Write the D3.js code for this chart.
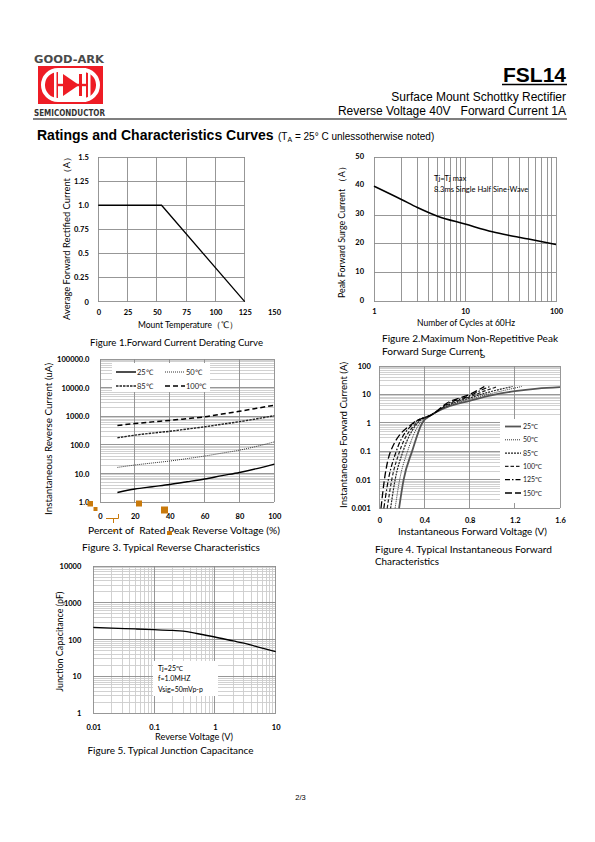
<!DOCTYPE html>
<html><head><meta charset="utf-8">
<script src="https://cdn.jsdelivr.net/npm/d3@7"></script>
<style>body{margin:0;background:#fff}svg{display:block}</style>
</head><body>
<svg id="page" width="595" height="842"></svg>
<script>
// ---------------- DATA ----------------
// Figure 1: Forward current derating
const fig1Temp = [0, 54, 125];
const fig1Current = [1.0, 1.0, 0.0];
const fig1XTicks = [0, 25, 50, 75, 100, 125, 150];
const fig1XGrid = [0, 25, 50, 75, 100, 125];
const fig1YTicks = [0, 0.25, 0.5, 0.75, 1.0, 1.25, 1.5];
const fig1YLabels = ["0", "0.25", "0.5", "0.75", "1.0", "1.25", "1.5"];

// Figure 2: Surge current
const fig2Cycles = [1, 2, 3, 5, 10, 20, 30, 50, 100];
const fig2Surge = [40, 35.4, 32.6, 29.6, 26.9, 24.2, 23.0, 21.7, 19.8];
const fig2XTicks = [1, 10, 100];
const fig2XGrid = [1, 2, 3, 4, 5, 6, 7, 8, 9, 10, 20, 30, 40, 50, 60, 70, 80, 90, 100];
const fig2YTicks = [0, 10, 20, 30, 40, 50];
const fig2YGrid = [10, 20, 30];

// Figure 3: Reverse characteristics
const fig3Percent = [10, 20, 30, 40, 50, 60, 70, 80, 90, 100];
const fig3I25 = [2.2, 2.9, 3.5, 4.2, 5.2, 6.5, 8.5, 11, 15, 21.5];
const fig3I50 = [16.5, 20, 23.5, 27.5, 33.5, 41, 52, 66, 90, 128];
const fig3I85 = [178, 220, 260, 300, 360, 430, 530, 650, 820, 1050];
const fig3I100 = [480, 560, 640, 720, 830, 960, 1200, 1500, 1900, 2450];
const fig3XTicks = [0, 20, 40, 60, 80, 100];
const fig3YTicks = [1, 10, 100, 1000, 10000, 100000];
const fig3YLabels = ["1.0", "10.0", "100.0", "1000.0", "10000.0", "100000.0"];
const fig3Legend = ["25℃", "50℃", "85℃", "100℃"];

// Figure 4: Forward characteristics (V, A)
const fig4Legend = ["25℃", "50℃", "85℃", "100℃", "125℃", "150℃"];
const fig4V25 = [0.175, 0.215, 0.29, 0.38, 0.47, 0.6, 0.8, 1.0, 1.2, 1.4, 1.6];
const fig4I25 = [0.001, 0.01, 0.1, 1, 2, 3.6, 6, 9.5, 13, 16, 18];
const fig4V50 = [0.14, 0.18, 0.25, 0.36, 0.47, 0.6, 0.8, 1.0, 1.26];
const fig4I50 = [0.001, 0.01, 0.1, 1, 2, 3.8, 6.8, 11, 19];
const fig4V85 = [0.10, 0.14, 0.21, 0.34, 0.47, 0.6, 0.8, 1.0, 1.18];
const fig4I85 = [0.001, 0.01, 0.1, 1, 2, 4.0, 7.5, 13, 19];
const fig4V100 = [0.07, 0.11, 0.18, 0.33, 0.47, 0.6, 0.8, 0.95, 1.05];
const fig4I100 = [0.001, 0.01, 0.1, 1, 2, 4.3, 8.2, 14, 19];
const fig4V125 = [0.04, 0.08, 0.15, 0.31, 0.47, 0.6, 0.8, 0.9, 0.98];
const fig4I125 = [0.001, 0.01, 0.1, 1, 2, 4.6, 9, 14, 19];
const fig4V150 = [0.015, 0.045, 0.10, 0.30, 0.47, 0.6, 0.8, 0.93];
const fig4I150 = [0.001, 0.01, 0.1, 1, 2, 5.0, 10, 19];
const fig4XTicks = [0, 0.4, 0.8, 1.2, 1.6];
const fig4XLabels = ["0", "0.4", "0.8", "1.2", "1.6"];
const fig4YTicks = [0.001, 0.01, 0.1, 1, 10, 100];
const fig4YLabels = ["0.001", "0.01", "0.1", "1", "10", "100"];

// Figure 5: Junction capacitance
const fig5Voltage = [0.01, 0.02, 0.05, 0.1, 0.2, 0.3, 0.5, 1, 2, 3, 5, 10];
const fig5Cap = [215, 205, 195, 187, 178, 171, 147, 118, 92, 80, 64, 47];
const fig5XTicks = [0.01, 0.1, 1, 10];
const fig5XLabels = ["0.01", "0.1", "1", "10"];
const fig5YTicks = [1, 10, 100, 1000, 10000];
const fig5YLabels = ["1", "10", "100", "1000", "10000"];

// ---------------- HELPERS ----------------
const svg = d3.select("#page");
const ARIAL = "'Liberation Sans', Arial, sans-serif";
const CAL = "Lato, 'Open Sans', sans-serif";
const GRID = "#8c8c8c", MINOR = "#cccccc";

function label(parent, s, x, y, o = {}) {
  const t = parent.append("text").attr("x", x).attr("y", y).text(s)
    .attr("font-family", o.family || CAL).attr("font-size", o.size || 9)
    .attr("fill", o.fill || "#000");
  if (o.weight) t.attr("font-weight", o.weight);
  if (o.anchor) t.attr("text-anchor", o.anchor);
  if (o.len) t.attr("textLength", o.len).attr("lengthAdjust", "spacingAndGlyphs");
  if (o.rotate) t.attr("transform", `rotate(-90 ${x} ${y})`);
  return t;
}
function styleAxis(ag, size) {
  ag.select(".domain").remove();
  ag.selectAll("text").attr("font-family", CAL).attr("font-size", size || 7.5)
    .attr("font-weight", "bold").attr("fill", "#000");
}
function xAxis(g, scale, vals, fmt, y, pad) {
  const a = d3.axisBottom(scale).tickValues(vals).tickFormat((d, i) => fmt[i]).tickSize(0).tickPadding(pad);
  const ag = g.append("g").attr("transform", `translate(0,${y})`).call(a);
  styleAxis(ag);
  return ag;
}
function yAxis(g, scale, vals, fmt, x, pad) {
  const a = d3.axisLeft(scale).tickValues(vals).tickFormat((d, i) => fmt[i]).tickSize(0).tickPadding(pad);
  const ag = g.append("g").attr("transform", `translate(${x},0)`).call(a);
  styleAxis(ag);
  return ag;
}
function vLines(g, scale, vals, y0, y1, color) {
  g.append("g").selectAll("line").data(vals).join("line")
    .attr("x1", d => scale(d)).attr("x2", d => scale(d)).attr("y1", y0).attr("y2", y1)
    .attr("stroke", color).attr("stroke-width", 0.9).attr("shape-rendering", "crispEdges");
}
function hLines(g, scale, vals, x0, x1, color) {
  g.append("g").selectAll("line").data(vals).join("line")
    .attr("y1", d => scale(d)).attr("y2", d => scale(d)).attr("x1", x0).attr("x2", x1)
    .attr("stroke", color).attr("stroke-width", 0.9).attr("shape-rendering", "crispEdges");
}
function logMinor(lo, hi) {
  const v = [];
  for (let p = Math.round(Math.log10(lo)); p < Math.round(Math.log10(hi)); p++)
    for (let k = 2; k < 10; k++) v.push(k * Math.pow(10, p));
  return v;
}
function zip(a, b) { return a.map((d, i) => [d, b[i]]); }

// ---------------- HEADER ----------------
const hdr = svg.append("g");
label(hdr, "GOOD-ARK", 34, 62.5, { family: "'DejaVu Sans', sans-serif", size: 11, weight: "bold", fill: "#4a4a4a", len: 70 });
hdr.append("rect").attr("x", 38).attr("y", 66).attr("width", 65).attr("height", 38).attr("fill", "#ee1c25");
hdr.append("rect").attr("x", 43).attr("y", 70).attr("width", 55).attr("height", 30).attr("rx", 15)
  .attr("fill", "none").attr("stroke", "#fff").attr("stroke-width", 4);
hdr.append("rect").attr("x", 58).attr("y", 68).attr("width", 28).attr("height", 34).attr("fill", "#fff");
hdr.append("path").attr("d", "M63,74 L63,96 L79,85 Z").attr("fill", "#ee1c25");
hdr.append("rect").attr("x", 79).attr("y", 74).attr("width", 3).attr("height", 22).attr("fill", "#ee1c25");
hdr.append("rect").attr("x", 45).attr("y", 83.8).attr("width", 51).attr("height", 2.4).attr("fill", "#ee1c25");
hdr.append("rect").attr("x", 54).attr("y", 72).attr("width", 2.5).attr("height", 26).attr("fill", "#fff");
hdr.append("rect").attr("x", 88).attr("y", 72).attr("width", 2.5).attr("height", 26).attr("fill", "#fff");
label(hdr, "SEMICONDUCTOR", 34, 116, { family: "'DejaVu Sans Condensed', 'DejaVu Sans', sans-serif", size: 9, weight: "bold", fill: "#333", len: 71 });
hdr.append("line").attr("x1", 33).attr("x2", 567).attr("y1", 119).attr("y2", 119).attr("stroke", "#000").attr("stroke-width", 1.2);
label(hdr, "FSL14", 566, 82, { family: ARIAL, size: 21, weight: "bold", anchor: "end" });
hdr.append("line").attr("x1", 502).attr("x2", 567).attr("y1", 84.5).attr("y2", 84.5).attr("stroke", "#000").attr("stroke-width", 1.3);
label(hdr, "Surface Mount Schottky Rectifier", 566, 100.5, { family: ARIAL, size: 12, anchor: "end" });
label(hdr, "Reverse Voltage 40V   Forward Current 1A", 566, 115, { family: ARIAL, size: 12, anchor: "end" }).attr("xml:space", "preserve");

const ttl = svg.append("g");
label(ttl, "Ratings and Characteristics Curves", 37, 139.5, { family: ARIAL, size: 14, weight: "bold" });
const sub = ttl.append("text").attr("x", 278).attr("y", 139.5).attr("font-family", ARIAL).attr("font-size", 10);
sub.append("tspan").text("(T");
sub.append("tspan").attr("dy", 2).attr("font-size", 7).text("A");
sub.append("tspan").attr("dy", -2).text(" = 25° C unlessotherwise noted)");

// ---------------- FIGURE 1 ----------------
{
  const g = svg.append("g");
  const x = d3.scaleLinear().domain([0, 150]).range([98.3, 274]);
  const y = d3.scaleLinear().domain([0, 1.5]).range([301.7, 157]);
  vLines(g, x, fig1XGrid, y(0), y(1.5), GRID);
  hLines(g, y, fig1YTicks, x(0), x(125), GRID);
  g.append("path").datum(zip(fig1Temp, fig1Current))
    .attr("d", d3.line().x(d => x(d[0])).y(d => y(d[1])))
    .attr("fill", "none").attr("stroke", "#000").attr("stroke-width", 1.3);
  xAxis(g, x, fig1XTicks, fig1XTicks.map(String), y(0), 7.5);
  yAxis(g, y, fig1YTicks, fig1YLabels, x(0), 9.5);
  label(g, "Average Forward Rectified Current（A）", 69.5, 236, { size: 8.5, anchor: "middle", rotate: true, len: 168 });
  label(g, "Mount Temperature（℃）", 188, 328, { size: 8.5, anchor: "middle", len: 100 });
  label(g, "Figure 1.Forward Current Derating Curve", 90, 345.5, { size: 9.5, len: 173 });
}

// ---------------- FIGURE 2 ----------------
{
  const g = svg.append("g");
  const x = d3.scaleLog().domain([1, 100]).range([374, 556]);
  const y = d3.scaleLinear().domain([0, 50]).range([301.7, 157.3]);
  vLines(g, x, fig2XGrid, y(0), y(50), GRID);
  hLines(g, y, fig2YGrid, x(1), x(100), GRID);
  hLines(g, y, [0, 50], x(1), x(100), GRID);
  g.append("path").datum(zip(fig2Cycles, fig2Surge))
    .attr("d", d3.line().x(d => x(d[0])).y(d => y(d[1])).curve(d3.curveMonotoneX))
    .attr("fill", "none").attr("stroke", "#000").attr("stroke-width", 1.5);
  xAxis(g, x, fig2XTicks, fig2XTicks.map(String), y(0), 7);
  const ya = yAxis(g, y, fig2YTicks, fig2YTicks.map(String), x(1), 10);
  ya.selectAll("text").attr("dy", "0.1em");
  label(g, "Tj=Tj max", 434, 181, { size: 7.5 });
  label(g, "8.3ms Single Half Sine-Wave", 434, 192, { size: 7.5 });
  label(g, "Peak Forward Surge Current （A）", 345, 230, { size: 8.5, anchor: "middle", rotate: true, len: 136 });
  label(g, "Number of Cycles at 60Hz", 466, 326, { size: 8.5, anchor: "middle", len: 98 });
  label(g, "Figure 2.Maximum Non-Repetitive Peak", 382, 342, { size: 9.5, len: 176 });
  label(g, "Forward Surge Current", 382, 355, { size: 9.5, len: 101 });
}

// ---------------- FIGURE 3 ----------------
{
  const g = svg.append("g");
  const x = d3.scaleLinear().domain([0, 100]).range([100, 274.3]);
  const y = d3.scaleLog().domain([1, 100000]).range([502.3, 359]);
  hLines(g, y, logMinor(1, 100000), x(0), x(100), MINOR);
  hLines(g, y, fig3YTicks, x(0), x(100), GRID);
  vLines(g, x, fig3XTicks, y(1), y(100000), GRID);
  // legend background
  g.append("rect").attr("x", 112).attr("y", 363).attr("width", 98).attr("height", 29).attr("fill", "#fff");
  const series = [
    { v: fig3I25, dash: null, w: 1.4, c: "#000" },
    { v: fig3I50, dash: "1,1", w: 1.0, c: "#333" },
    { v: fig3I85, dash: "2.5,1", w: 1.4, c: "#222" },
    { v: fig3I100, dash: "5,3", w: 1.5, c: "#000" }
  ];
  const line = d3.line().x(d => x(d[0])).y(d => y(d[1])).curve(d3.curveMonotoneX);
  series.forEach(s => {
    g.append("path").datum(zip(fig3Percent, s.v)).attr("d", line)
      .attr("fill", "none").attr("stroke", s.c).attr("stroke-width", s.w).attr("stroke-dasharray", s.dash);
  });
  const lpos = [[116, 372], [165, 372], [116, 386], [165, 386]];
  series.forEach((s, i) => {
    const [lx, ly] = lpos[i];
    g.append("line").attr("x1", lx).attr("x2", lx + 20).attr("y1", ly).attr("y2", ly)
      .attr("stroke", s.c).attr("stroke-width", s.w).attr("stroke-dasharray", s.dash);
    label(g, fig3Legend[i], lx + 21, ly + 2.5, { size: 7.5, fill: "#222" });
  });
  xAxis(g, x, fig3XTicks, fig3XTicks.map(String), y(1), 11.5);
  yAxis(g, y, fig3YTicks, fig3YLabels, x(0), 10.7);
  label(g, "Instantaneous Reverse Current (uA)", 51.5, 439, { size: 10, anchor: "middle", rotate: true, len: 152 });
  label(g, "Percent of  Rated Peak Reverse Voltage (%)", 88, 534, { size: 10, len: 192 }).attr("xml:space", "preserve");
  label(g, "Figure 3. Typical Reverse Characteristics", 82, 550.5, { size: 9.5, len: 178 });
  // orange selection-handle artefacts
  const OR = "#c97a0c";
  [[87.5, 501, 5.5, 5.5], [93.5, 507, 4, 4], [136, 500.5, 6, 6], [161, 506.5, 7, 7], [167, 531, 5, 4], [113, 529, 2.5, 3]]
    .forEach(r => g.append("rect").attr("x", r[0]).attr("y", r[1]).attr("width", r[2]).attr("height", r[3]).attr("fill", OR));
  g.append("path").attr("d", "M106,518.5 H118.5 V514 M113.5,518.5 V523").attr("fill", "none").attr("stroke", OR).attr("stroke-width", 1);
}

// ---------------- FIGURE 4 ----------------
{
  const g = svg.append("g");
  const x = d3.scaleLinear().domain([0, 1.6]).range([379.3, 560]);
  const y = d3.scaleLog().domain([0.001, 100]).range([508.3, 366]);
  hLines(g, y, logMinor(0.001, 100), x(0), x(1.6), MINOR);
  hLines(g, y, fig4YTicks, x(0), x(1.6), GRID);
  vLines(g, x, fig4XTicks, y(0.001), y(100), GRID);
  // clipped title fragment above the plot
  const clip = svg.append("clipPath").attr("id", "c4");
  clip.append("rect").attr("x", 470).attr("y", 355).attr("width", 30).attr("height", 8);
  label(g, "g", 480, 356, { size: 10 }).attr("clip-path", "url(#c4)");
  // legend background
  g.append("rect").attr("x", 500).attr("y", 419).attr("width", 60).attr("height", 84).attr("fill", "#fff");
  const series = [
    { v: fig4V25, i: fig4I25, dash: null, w: 1.8, c: "#555" },
    { v: fig4V50, i: fig4I50, dash: "1,1", w: 1.0, c: "#333" },
    { v: fig4V85, i: fig4I85, dash: "2,1", w: 1.2, c: "#222" },
    { v: fig4V100, i: fig4I100, dash: "3.5,2", w: 1.2, c: "#222" },
    { v: fig4V125, i: fig4I125, dash: "5,2,1.5,2", w: 1.2, c: "#000" },
    { v: fig4V150, i: fig4I150, dash: "7,3", w: 1.3, c: "#000" }
  ];
  const line = d3.line().x(d => x(d[0])).y(d => y(d[1])).curve(d3.curveMonotoneX);
  series.forEach(s => {
    g.append("path").datum(zip(s.v, s.i)).attr("d", line)
      .attr("fill", "none").attr("stroke", s.c).attr("stroke-width", s.w).attr("stroke-dasharray", s.dash);
  });
  series.forEach((s, k) => {
    const ly = 426.5 + k * 13.3;
    g.append("line").attr("x1", 505).attr("x2", 521).attr("y1", ly).attr("y2", ly)
      .attr("stroke", s.c).attr("stroke-width", s.w).attr("stroke-dasharray", s.dash);
    label(g, fig4Legend[k], 523, ly + 2.5, { size: 7, fill: "#222" });
  });
  xAxis(g, x, fig4XTicks, fig4XLabels, y(0.001), 9.4);
  yAxis(g, y, fig4YTicks, fig4YLabels, x(0), 8.5);
  label(g, "Instantaneous Forward Current (A)", 346.5, 435, { size: 9.5, anchor: "middle", rotate: true, len: 146 });
  label(g, "Instantaneous Forward Voltage (V)", 472.5, 535, { size: 9.5, anchor: "middle", len: 149 });
  label(g, "Figure 4. Typical Instantaneous Forward", 375, 552.5, { size: 9.5, len: 177 });
  label(g, "Characteristics", 375, 565, { size: 9.5, len: 64 });
}

// ---------------- FIGURE 5 ----------------
{
  const g = svg.append("g");
  const x = d3.scaleLog().domain([0.01, 10]).range([93.3, 275.7]);
  const y = d3.scaleLog().domain([1, 10000]).range([713.3, 566]);
  vLines(g, x, logMinor(0.01, 10), y(1), y(10000), MINOR);
  hLines(g, y, logMinor(1, 10000), x(0.01), x(10), MINOR);
  vLines(g, x, fig5XTicks, y(1), y(10000), GRID);
  hLines(g, y, fig5YTicks, x(0.01), x(10), GRID);
  g.append("rect").attr("x", 153).attr("y", 661).attr("width", 65).attr("height", 35).attr("fill", "#fff");
  g.append("path").datum(zip(fig5Voltage, fig5Cap))
    .attr("d", d3.line().x(d => x(d[0])).y(d => y(d[1])).curve(d3.curveMonotoneX))
    .attr("fill", "none").attr("stroke", "#000").attr("stroke-width", 1.3);
  label(g, "Tj=25℃", 158, 670.5, { size: 7 });
  label(g, "f=1.0MHZ", 158, 681, { size: 7 });
  label(g, "Vsig=50mVp-p", 158, 691.5, { size: 7 });
  xAxis(g, x, fig5XTicks, fig5XLabels, y(1), 11);
  yAxis(g, y, fig5YTicks, fig5YLabels, x(0.01), 12);
  label(g, "Junction Capacitance (pF)", 63.5, 641.7, { size: 9.5, anchor: "middle", rotate: true, len: 100 });
  label(g, "Reverse Voltage (V)", 194, 739.5, { size: 9.5, anchor: "middle", len: 78 });
  label(g, "Figure 5. Typical Junction Capacitance", 87.5, 754, { size: 9.5, len: 166 });
}

// ---------------- FOOTER ----------------
label(svg, "2/3", 300.5, 800, { family: ARIAL, size: 7.5, anchor: "middle" });
</script>
</body></html>
